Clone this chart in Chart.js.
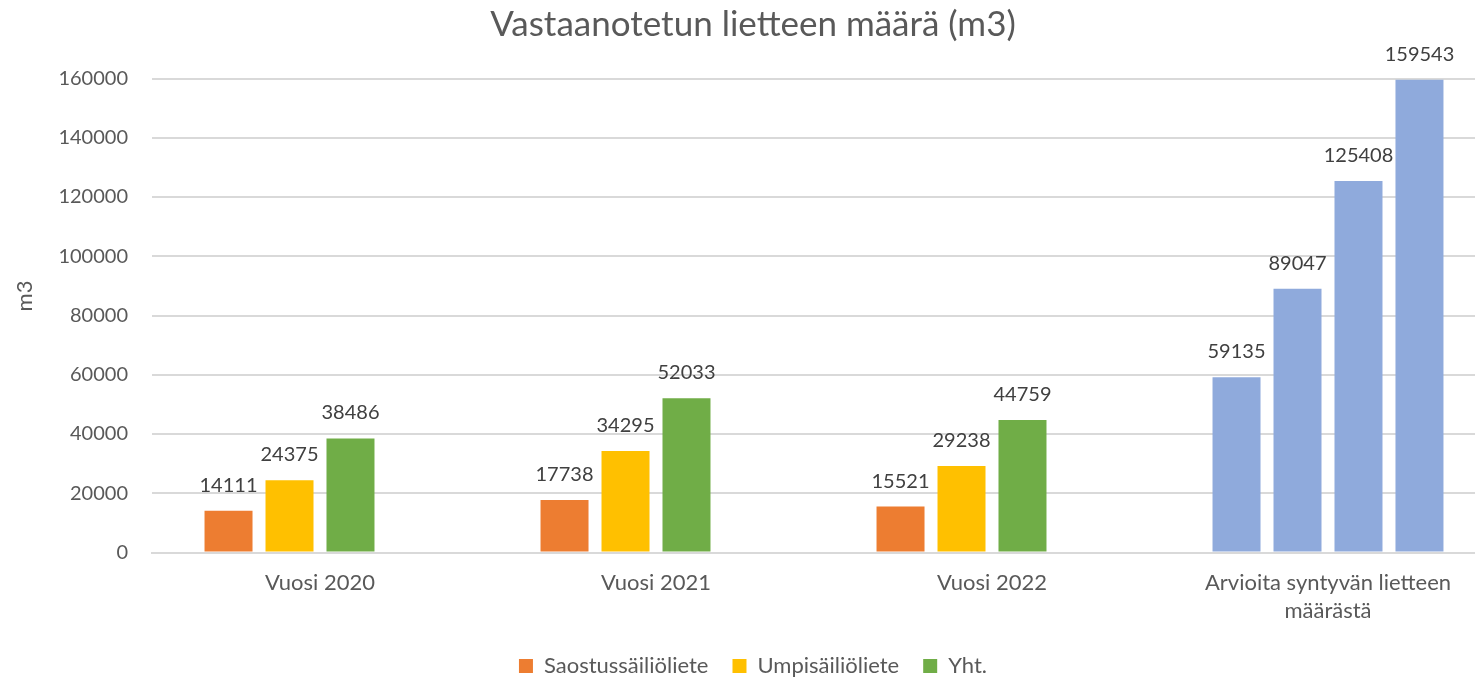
<!DOCTYPE html>
<html>
<head>
<meta charset="utf-8">
<script src="https://cdn.jsdelivr.net/npm/chart.js@4/dist/chart.umd.min.js"></script>
<style>
  html, body { margin: 0; padding: 0; overflow: hidden; background: #fff; width: 1475px; height: 678px; }
  #wrap { position: absolute; left: 10px; top: 0; width: 1486px; height: 687px; }
</style>
</head>
<body>
<div id="wrap"><canvas id="c" width="1486" height="687"></canvas></div>
<script>
// ---- data ----
const chartTitle = 'Vastaanotetun lietteen määrä (m3)';
const yAxisTitle = 'm3';
const years = ['Vuosi 2020', 'Vuosi 2021', 'Vuosi 2022'];
const estimateLabel = ['Arvioita syntyvän lietteen', 'määrästä'];
const seriesNames = ['Saostussäiliöliete', 'Umpisäiliöliete', 'Yht.'];
const saostus = [14111, 17738, 15521];
const umpi = [24375, 34295, 29238];
const yht = [38486, 52033, 44759];
const arvio = [59135, 89047, 125408, 159543];
const yMin = 0, yMax = 160000, yStep = 20000;

// ---- styles ----
const seriesColors = ['#ED7D31', '#FFC000', '#70AD47'];
const estimateColor = '#8FAADC';
const textColor = '#595959';
const labelColor = '#404040';
const gridColor = '#D9D9D9';
const FONT = 'Lato, "Open Sans", sans-serif';

const categories = [...years, estimateLabel];
const seriesData = [saostus, umpi, yht];
const datasets = seriesData.map((vals, i) => ({
  label: seriesNames[i],
  data: [...vals, arvio[i]],
  backgroundColor: [...vals.map(() => seriesColors[i]), estimateColor]
}));
datasets.push({
  label: 'Arvio',
  data: [...years.map(() => null), arvio[3]],
  backgroundColor: estimateColor
});

const valueLabels = {
  id: 'valueLabels',
  afterDatasetsDraw(chart) {
    const ctx = chart.ctx;
    ctx.save();
    ctx.font = '20px ' + FONT;
    ctx.fillStyle = labelColor;
    ctx.textAlign = 'center';
    ctx.textBaseline = 'alphabetic';
    chart.data.datasets.forEach((ds, di) => {
      const meta = chart.getDatasetMeta(di);
      meta.data.forEach((el, i) => {
        const v = ds.data[i];
        if (v === null || v === undefined) return;
        ctx.fillText(String(v), el.x, el.y - 19);
      });
    });
    ctx.restore();
  }
};

const yTitlePlugin = {
  id: 'yTitle',
  afterDraw(chart) {
    const ctx = chart.ctx;
    ctx.save();
    ctx.translate(15, 296);
    ctx.rotate(-Math.PI / 2);
    ctx.font = '22px ' + FONT;
    ctx.fillStyle = textColor;
    ctx.textAlign = 'center';
    ctx.textBaseline = 'middle';
    ctx.fillText(yAxisTitle, 0, 0);
    ctx.restore();
  }
};

new Chart(document.getElementById('c'), {
  type: 'bar',
  data: { labels: categories, datasets },
  plugins: [valueLabels, yTitlePlugin],
  options: {
    responsive: false,
    animation: false,
    layout: { padding: { left: 0, right: 0, top: 0, bottom: 0 } },
    datasets: { bar: { categoryPercentage: 0.726, barPercentage: 0.787 } },
    plugins: {
      title: {
        display: true,
        text: chartTitle,
        color: textColor,
        font: { family: FONT, size: 35, weight: 'normal', lineHeight: 1.2 },
        padding: { top: 4, bottom: 32.5 }
      },
      legend: {
        position: 'bottom',
        labels: {
          color: textColor,
          font: { family: FONT, size: 22 },
          boxWidth: 14,
          boxHeight: 14,
          padding: 24,
          generateLabels: () => seriesNames.map((n, i) => ({
            text: n,
            fillStyle: seriesColors[i],
            strokeStyle: seriesColors[i],
            fontColor: textColor,
            lineWidth: 0,
            hidden: false,
            datasetIndex: i
          }))
        }
      },
      tooltip: { enabled: false }
    },
    scales: {
      x: {
        afterFit(scale) { scale.height = 78.5; },
        grid: { display: false, drawTicks: false },
        border: { display: true, color: gridColor, width: 2 },
        ticks: {
          color: textColor,
          font: { family: FONT, size: 22, lineHeight: 1.3 },
          padding: 16,
          maxRotation: 0,
          autoSkip: false
        }
      },
      y: {
        min: yMin,
        max: yMax,
        afterFit(scale) { scale.width = 142; },
        grid: { color: gridColor, lineWidth: 2, drawTicks: false },
        border: { display: false },
        ticks: {
          stepSize: yStep,
          color: textColor,
          font: { family: FONT, size: 20 },
          padding: 24,
          callback: (v) => String(v)
        },
        title: { display: false }
      }
    }
  }
});
</script>
</body>
</html>
